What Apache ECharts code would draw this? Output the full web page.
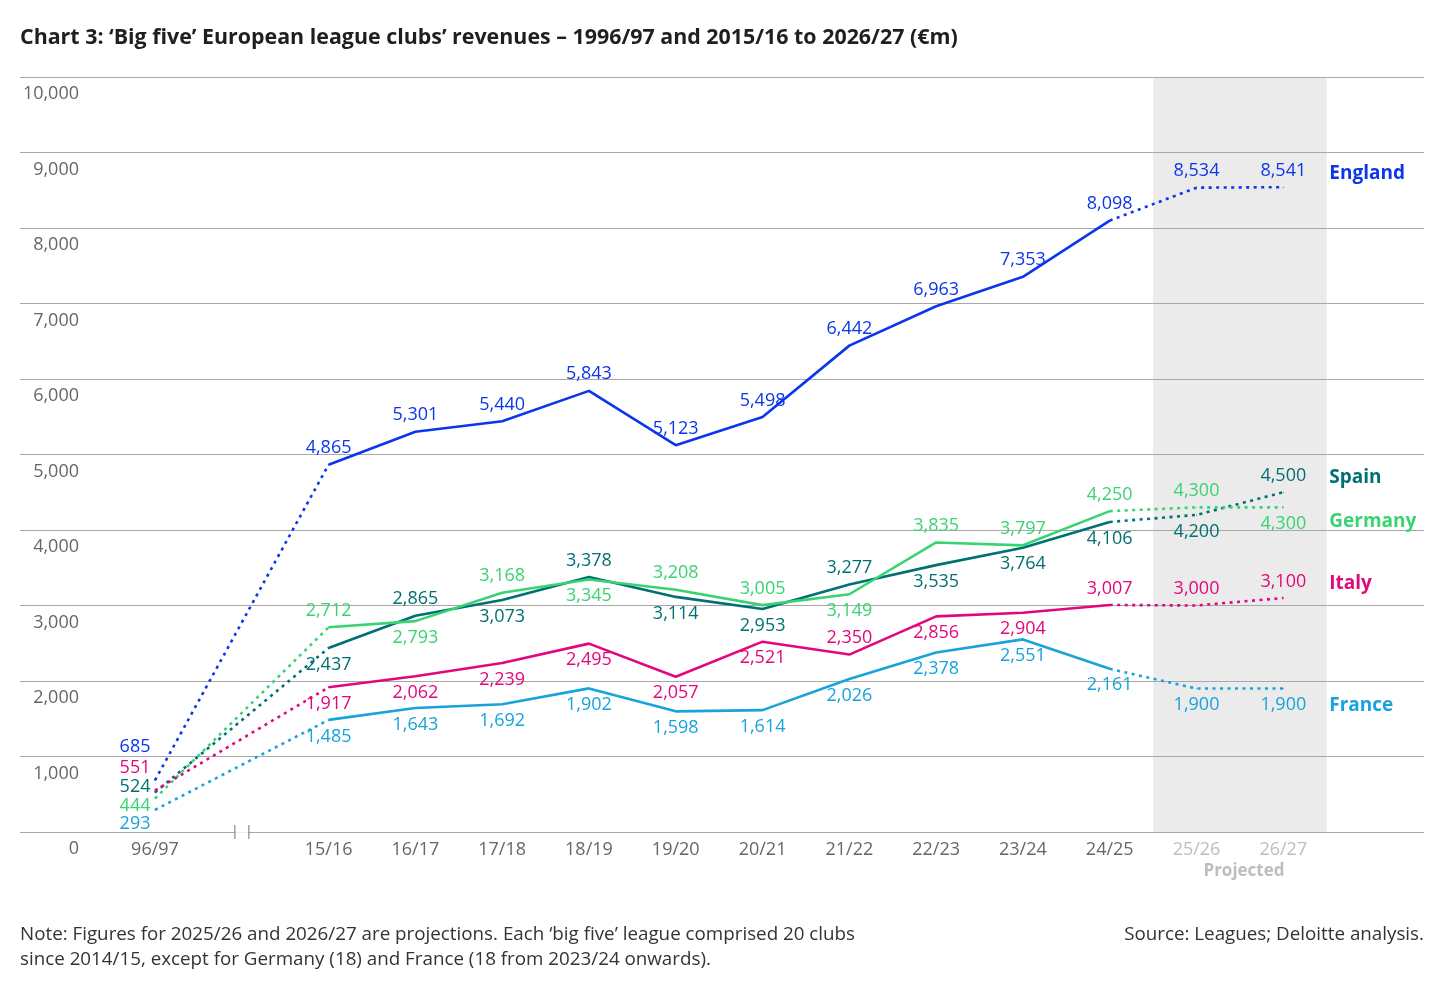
<!DOCTYPE html>
<html lang="en">
<head>
<meta charset="UTF-8">
<title>Big five European league clubs' revenues</title>
<style>
  html, body { margin: 0; padding: 0; background: #fff; }
  #chart { width: 1452px; height: 988px; }
</style>
</head>
<body>
<div id="chart"></div>
<script src="https://cdn.jsdelivr.net/npm/echarts@6/dist/echarts.min.js"></script>
<script>
  // seasons; the empty one is the axis break between 96/97 and 15/16
  const seasons = ['96/97', '', '15/16', '16/17', '17/18', '18/19', '19/20', '20/21', '21/22', '22/23', '23/24', '24/25', '25/26', '26/27']
  const projected = ['25/26', '26/27']

  // revenues, €m
  const england = [685, null, 4865, 5301, 5440, 5843, 5123, 5498, 6442, 6963, 7353, 8098, 8534, 8541]
  const spain = [524, null, 2437, 2865, 3073, 3378, 3114, 2953, 3277, 3535, 3764, 4106, 4200, 4500]
  const germany = [444, null, 2712, 2793, 3168, 3345, 3208, 3005, 3149, 3835, 3797, 4250, 4300, 4300]
  const italy = [551, null, 1917, 2062, 2239, 2495, 2057, 2521, 2350, 2856, 2904, 3007, 3000, 3100]
  const france = [293, null, 1485, 1643, 1692, 1902, 1598, 1614, 2026, 2378, 2551, 2161, 1900, 1900]

  const FONT = '"Open Sans", "Noto Sans", sans-serif'
  const lastSolid = seasons.indexOf('24/25')
  const firstSolid = seasons.indexOf('15/16')

  // label side per point: L = left (96/97 stack), T = top, B = bottom
  const countries = [
    { name: 'England', values: england, color: '#0b36ec', sides: 'L-TTTTTTTTTTTT', startDy: -33, nameDy: -14 },
    { name: 'Spain', values: spain, color: '#007073', sides: 'L-BTBTBBTBBBBT', startDy: -6, nameDy: -15 },
    { name: 'Germany', values: germany, color: '#3ad372', sides: 'L-TBTBTTBTTTTB', startDy: 7, nameDy: 14 },
    { name: 'Italy', values: italy, color: '#e2077c', sides: 'L-BBBBBBTBBTTT', startDy: -23, nameDy: -14 },
    { name: 'France', values: france, color: '#17a3db', sides: 'L-BBBBBBBBBBBB', startDy: 14, nameDy: 17 }
  ]

  function point(c, i, withLabel) {
    const v = c.values[i]
    if (v == null) return null
    if (!withLabel) return v
    const side = c.sides[i]
    const label = side === 'L'
      ? { show: true, position: 'left', distance: 4, offset: [0, c.startDy] }
      : { show: true, position: side === 'T' ? 'top' : 'bottom', distance: 7 }
    return { value: v, label: label }
  }

  // one line piece from index `from` to `to`, labels on [labelFrom, labelTo]
  function lineSeries(c, from, to, labelFrom, labelTo, dotted) {
    return {
      name: c.name,
      type: 'line',
      xAxisIndex: 1,
      yAxisIndex: 1,
      data: seasons.map((s, i) => (i >= from && i <= to) ? point(c, i, i >= labelFrom && i <= labelTo) : null),
      connectNulls: true,
      symbol: 'circle',
      symbolSize: 1,
      showSymbol: true,
      itemStyle: { color: c.color },
      lineStyle: { color: c.color, width: 2.6, type: dotted ? [3, 4.5] : 'solid' },
      label: {
        show: false,
        color: c.color,
        fontFamily: FONT,
        fontSize: 18,
        formatter: p => p.value.toLocaleString('en-US')
      },
      emphasis: { disabled: true },
      silent: true,
      z: 3
    }
  }

  const series = []

  // projected shading
  series.push({
    type: 'bar',
    xAxisIndex: 1,
    yAxisIndex: 1,
    data: seasons.map(s => projected.includes(s) ? 10000 : null),
    barWidth: '100%',
    itemStyle: { color: '#ecebec' },
    silent: true,
    z: -1
  })

  const last = seasons.length - 1
  countries.forEach(c => {
    series.push(lineSeries(c, 0, firstSolid, 0, 0, true))
    series.push(lineSeries(c, firstSolid, lastSolid, firstSolid, lastSolid, false))
    const end = lineSeries(c, lastSolid, last, lastSolid + 1, last, true)
    end.endLabel = {
      show: true,
      formatter: c.name,
      color: c.color,
      fontFamily: FONT,
      fontSize: 19,
      fontWeight: 'bold',
      distance: 5,
      offset: [41, c.nameDy]
    }
    series.push(end)
  })

  // axis break marks on the baseline
  series.push({
    type: 'scatter',
    xAxisIndex: 1,
    yAxisIndex: 1,
    data: [['', 0]],
    symbol: 'rect',
    symbolSize: [13, 5],
    itemStyle: { color: '#fff' },
    clip: false,
    silent: true,
    z: 4
  })
  series.push({
    type: 'scatter',
    xAxisIndex: 1,
    yAxisIndex: 1,
    data: [['', 0]],
    symbol: 'path://M0,0h1.5v14h-1.5zM14,0h1.5v14h-1.5z',
    symbolSize: [15.5, 14],
    itemStyle: { color: '#8a8a8a' },
    clip: false,
    silent: true,
    z: 4
  })

  const chart = echarts.init(document.getElementById('chart'))
  chart.setOption({
    animation: false,
    textStyle: { fontFamily: FONT },
    title: [
      {
        text: 'Chart 3: ‘Big five’ European league clubs’ revenues – 1996/97 and 2015/16 to 2026/27 (€m)',
        left: 20,
        top: 27,
        padding: 0,
        textStyle: { fontFamily: FONT, fontSize: 21.4, fontWeight: 'bold', color: '#1f1f1f' }
      },
      {
        text: 'Note: Figures for 2025/26 and 2026/27 are projections. Each ‘big five’ league comprised 20 clubs\nsince 2014/15, except for Germany (18) and France (18 from 2023/24 onwards).',
        left: 20,
        top: 922,
        padding: 0,
        textStyle: { fontFamily: FONT, fontSize: 18.8, fontWeight: 'normal', color: '#333', lineHeight: 25 }
      },
      {
        text: 'Source: Leagues; Deloitte analysis.',
        right: 28,
        top: 922,
        padding: 0,
        textStyle: { fontFamily: FONT, fontSize: 18.8, fontWeight: 'normal', color: '#333', lineHeight: 25 }
      }
    ],
    graphic: [
      {
        type: 'text',
        x: 1244,
        y: 871,
        style: {
          text: 'Projected',
          fill: '#bdbdbd',
          font: 'bold 17px "Open Sans", sans-serif',
          textAlign: 'center',
          textVerticalAlign: 'middle'
        },
        silent: true
      }
    ],
    grid: [
      { left: 20, right: 28, top: 77, bottom: 156 },
      { left: 111.6, right: 125.3, top: 77, bottom: 156 }
    ],
    xAxis: [
      { type: 'category', gridIndex: 0, data: seasons, show: false },
      {
        type: 'category',
        gridIndex: 1,
        data: seasons,
        boundaryGap: true,
        axisLine: { show: false },
        axisTick: { show: false },
        axisLabel: {
          interval: 0,
          margin: 9,
          color: '#666',
          fontFamily: FONT,
          fontSize: 18,
          formatter: v => projected.includes(v) ? '{p|' + v + '}' : v,
          rich: { p: { color: '#bdbdbd', fontFamily: FONT, fontSize: 18 } }
        }
      }
    ],
    yAxis: [
      {
        type: 'value',
        gridIndex: 0,
        min: 0,
        max: 10000,
        interval: 1000,
        axisLine: { show: false },
        axisTick: { show: false },
        splitLine: { lineStyle: { color: '#a8a8a8', width: 1.2 } },
        axisLabel: {
          inside: true,
          margin: 59,
          align: 'right',
          verticalAlign: 'top',
          padding: [8, 0, 0, 0],
          color: '#666',
          fontFamily: FONT,
          fontSize: 18,
          showMinLabel: true,
          showMaxLabel: true,
          formatter: v => v.toLocaleString('en-US')
        }
      },
      { type: 'value', gridIndex: 1, min: 0, max: 10000, interval: 1000, show: false }
    ],
    series: series
  })
</script>
</body>
</html>
